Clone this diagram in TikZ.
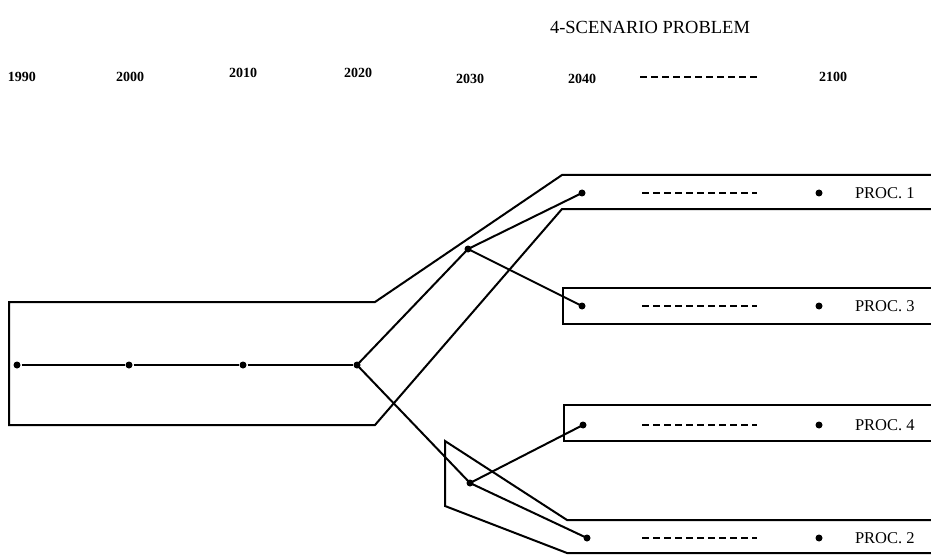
\documentclass[tikz,border=0pt]{standalone}
\usepackage{fontspec}
\setmainfont{Liberation Serif}
\begin{document}
\begin{tikzpicture}[x=1pt,y=-1pt,line width=2pt,line join=miter,
  dot/.style={circle,fill,inner sep=0pt,minimum size=7pt},
  link/.style={line width=2pt},
  dashrow/.style={line width=2pt,dash pattern=on 7pt off 4pt},
  year/.style={font=\fontsize{14}{14}\selectfont\bfseries},
  lab/.style={font=\fontsize{16.5}{16.5}\selectfont,anchor=west,inner sep=0pt},
  band/.style={line width=2pt}]
\useasboundingbox (0,0) rectangle (931,556);
\fill[white] (0,0) rectangle (931,556);

% title
\node (title) at (650,27) {\fontsize{18.5}{18.5}\selectfont 4-SCENARIO PROBLEM};

% years
\node[year] (y1990) at (22,77) {1990};
\node[year] (y2000) at (130,77) {2000};
\node[year] (y2010) at (243,73) {2010};
\node[year] (y2020) at (358,73) {2020};
\node[year] (y2030) at (470,79) {2030};
\node[year] (y2040) at (582,79) {2040};
\node[year] (y2100) at (833,77) {2100};
\coordinate (hd1) at (640,77);
\coordinate (hd2) at (760,77);
\draw[dashrow] (hd1) -- (hd2);

% bands
\draw[band] (931,175) -- (562,175) -- (375,302) -- (9,302) -- (9,425) -- (375,425) -- (562,209) -- (931,209);
\draw[band] (931,288) -- (563,288) -- (563,324) -- (931,324);
\draw[band] (931,405) -- (564,405) -- (564,441) -- (931,441);
\draw[band] (931,520) -- (567,520) -- (445,441) -- (445,506) -- (567,553) -- (931,553);

% nodes
\node[dot] (n1990) at (17,365) {};
\node[dot] (n2000) at (129,365) {};
\node[dot] (n2010) at (243,365) {};
\node[dot] (n2020) at (357,365) {};
\node[dot] (a2030) at (468,249) {};
\node[dot] (b2030) at (470,483) {};
\node[dot] (p1) at (582,193) {};
\node[dot] (p3) at (582,306) {};
\node[dot] (p4) at (583,425) {};
\node[dot] (p2) at (587,538) {};
\node[dot] (e1) at (819,193) {};
\node[dot] (e3) at (819,306) {};
\node[dot] (e4) at (819,425) {};
\node[dot] (e2) at (819,538) {};

% links
\draw[link] (n1990) -- (n2000) -- (n2010) -- (n2020);
\draw[link] (n2020.center) -- (a2030.center);
\draw[link] (n2020.center) -- (b2030.center);
\draw[link] (a2030.center) -- (p1.center);
\draw[link] (a2030.center) -- (p3.center);
\draw[link] (b2030.center) -- (p4.center);
\draw[link] (b2030.center) -- (p2.center);

% dashed continuation
\foreach \yy/\nm in {193/1,306/3,425/4,538/2}{
  \coordinate (da\nm) at (642,\yy);
  \coordinate (db\nm) at (757,\yy);
  \draw[dashrow] (da\nm) -- (db\nm);
}

% labels
\node[lab] (l1) at (854,193) {PROC. 1};
\node[lab] (l3) at (854,306) {PROC. 3};
\node[lab] (l4) at (854,425) {PROC. 4};
\node[lab] (l2) at (854,538) {PROC. 2};
\end{tikzpicture}
\end{document}
